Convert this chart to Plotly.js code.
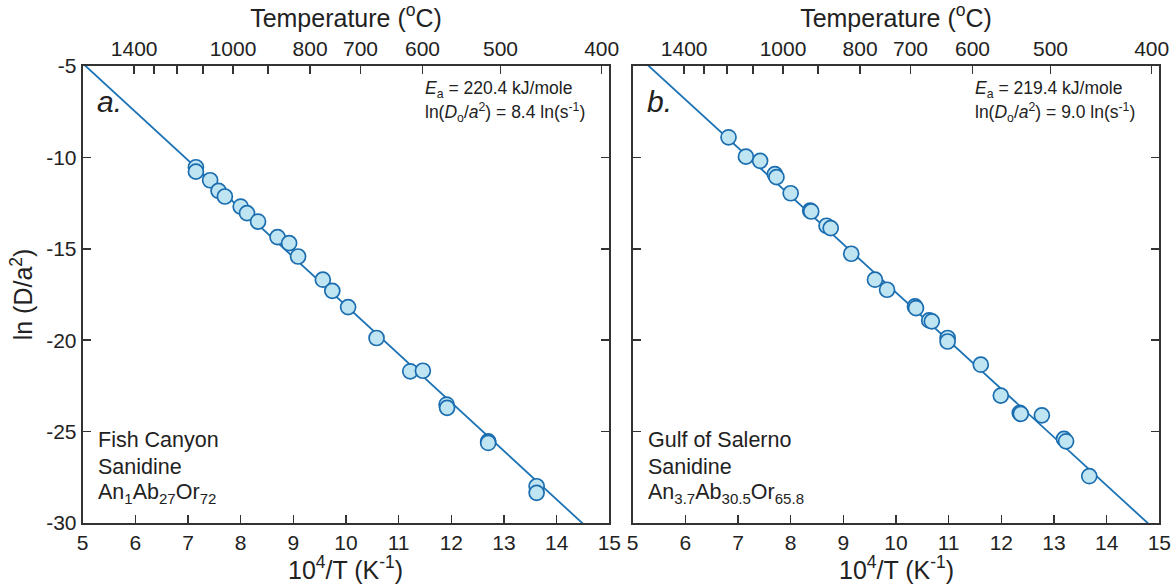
<!DOCTYPE html>
<html><head><meta charset="utf-8">
<script src="https://cdn.plot.ly/plotly-3.0.1.min.js"></script>
<style>html,body{margin:0;padding:0;background:#fff}#chart{width:1172px;height:586px}</style>
</head><body><div id="chart"></div>
<script>
// Panel a: Fish Canyon sanidine (10^4/T, ln(D/a^2))
const xA = [7.15, 7.15, 7.42, 7.58, 7.70, 8.00, 8.12, 8.33, 8.70, 8.92, 9.09, 9.56, 9.74, 10.04, 10.58, 11.22, 11.46, 11.91, 11.92, 12.70, 12.70, 13.62, 13.62];
const yA = [-10.54, -10.78, -11.25, -11.83, -12.14, -12.69, -13.05, -13.51, -14.36, -14.69, -15.42, -16.69, -17.30, -18.19, -19.88, -21.70, -21.67, -23.52, -23.70, -25.53, -25.62, -27.99, -28.35];
// Panel b: Gulf of Salerno sanidine
const xB = [6.82, 7.15, 7.42, 7.70, 7.73, 8.00, 8.37, 8.39, 8.68, 8.76, 9.15, 9.60, 9.83, 10.36, 10.38, 10.63, 10.68, 10.98, 10.98, 11.61, 11.99, 12.35, 12.37, 12.77, 13.19, 13.23, 13.67];
const yB = [-8.90, -9.96, -10.19, -10.92, -11.08, -11.96, -12.91, -12.96, -13.74, -13.87, -15.27, -16.69, -17.24, -18.15, -18.24, -18.92, -18.97, -19.88, -20.07, -21.34, -23.03, -23.98, -24.03, -24.11, -25.40, -25.53, -27.44];
// Arrhenius fits
const fitEa = [220.4, 219.4];      // kJ/mole
const fitLnD0 = [8.4, 9.0];        // ln(s^-1)
// Axis ticks
const xTicks = [5, 6, 7, 8, 9, 10, 11, 12, 13, 14, 15];
const yTicks = [-30, -25, -20, -15, -10, -5];
const tempLabeled = [1400, 1000, 800, 700, 600, 500, 400];
const tempMinor = [1300, 1200, 1100, 900];
const sampleLines = [
  ['Fish Canyon', 'Sanidine', 'An<sub>1</sub>Ab<sub>27</sub>Or<sub>72</sub>'],
  ['Gulf of Salerno', 'Sanidine', 'An<sub>3.7</sub>Ab<sub>30.5</sub>Or<sub>65.8</sub>']
];
const panelLetters = ['a.', 'b.'];

const W = 1172, H = 586;
const FONT = 'Liberation Sans, Arial, sans-serif';
const R = 8.314;
const toX = T => 1e4 / (T + 273.15);

function fitLine(i) {
  const xs = [4, 16];
  const slope = fitEa[i] * 1000 / R / 1e4;
  return {x: xs, y: xs.map(x => fitLnD0[i] - slope * x)};
}

const topVals = tempLabeled.map(toX).concat(tempMinor.map(toX));
const topText = tempLabeled.map(String).concat(tempMinor.map(() => ''));

const lineColor = '#1b72b4';
const markerStyle = {size: 15, color: '#bfe4f2', line: {color: '#1a6daf', width: 1.7}};

const fa = fitLine(0), fb = fitLine(1);
const traces = [
  {x: fa.x, y: fa.y, mode: 'lines', line: {color: lineColor, width: 1.8}, xaxis: 'x', yaxis: 'y', hoverinfo: 'skip'},
  {x: xA, y: yA, mode: 'markers', marker: markerStyle, xaxis: 'x', yaxis: 'y'},
  {x: fb.x, y: fb.y, mode: 'lines', line: {color: lineColor, width: 1.8}, xaxis: 'x2', yaxis: 'y2', hoverinfo: 'skip'},
  {x: xB, y: yB, mode: 'markers', marker: markerStyle, xaxis: 'x2', yaxis: 'y2'},
  {x: [], y: [], mode: 'markers', xaxis: 'x3', yaxis: 'y', hoverinfo: 'skip'},
  {x: [], y: [], mode: 'markers', xaxis: 'x4', yaxis: 'y2', hoverinfo: 'skip'}
];

const dA = [82.7 / W, 609.3 / W], dB = [632.7 / W, 1159.3 / W];
const yd = [1 - 523 / H, 1 - 66 / H];
const ax = {
  showline: true, linecolor: '#333', linewidth: 2, ticks: 'inside', ticklen: 8, tickwidth: 1.6,
  tickcolor: '#333', showgrid: false, zeroline: false, automargin: false,
  tickfont: {family: FONT, size: 21, color: '#222'}
};
const titleFont = {family: FONT, size: 25, color: '#222'};

function bottomX(dom, yref) {
  return Object.assign({}, ax, {domain: dom, range: [5, 15], tickmode: 'array', tickvals: xTicks,
    ticktext: xTicks.map(String), anchor: yref});
}
function topX(dom, over, yref) {
  return Object.assign({}, ax, {domain: dom, range: [5, 15], overlaying: over, side: 'top', anchor: yref,
    tickmode: 'array', tickvals: topVals, ticktext: topText,
    title: {text: 'Temperature (<sup>o</sup>C)', font: titleFont, standoff: 2}});
}

const annotations = [];
const eqs = [
  ['<i>E</i><sub>a</sub> = 220.4 kJ/mole', 'ln(<i>D</i><sub>o</sub>/<i>a</i><sup>2</sup>) = 8.4 ln(s<sup>-1</sup>)'],
  ['<i>E</i><sub>a</sub> = 219.4 kJ/mole', 'ln(<i>D</i><sub>o</sub>/<i>a</i><sup>2</sup>) = 9.0 ln(s<sup>-1</sup>)']
];
const panelLeft = [82.7, 632.7];
const doms = [dA, dB];
for (let p = 0; p < 2; p++) {
  const L = panelLeft[p];
  annotations.push({xref: 'paper', yref: 'paper', x: (doms[p][0] + doms[p][1]) / 2, y: 1 - 568 / H, xanchor: 'center', yanchor: 'middle',
    text: '10<sup>4</sup>/T (K<sup>-1</sup>)', showarrow: false, font: titleFont});
  annotations.push({xref: 'paper', yref: 'paper', x: (L + 12) / W, y: 1 - 101 / H, xanchor: 'left', yanchor: 'middle',
    text: '<i>' + panelLetters[p] + '</i>', showarrow: false, font: {family: FONT, size: 30, color: '#222'}});
  annotations.push({xref: 'paper', yref: 'paper', x: (L + 340) / W, y: 1 - 89 / H, xanchor: 'left', yanchor: 'middle',
    text: eqs[p][0], showarrow: false, font: {family: FONT, size: 17.5, color: '#222'}});
  annotations.push({xref: 'paper', yref: 'paper', x: (L + 340) / W, y: 1 - 113 / H, xanchor: 'left', yanchor: 'middle',
    text: eqs[p][1], showarrow: false, font: {family: FONT, size: 17.5, color: '#222'}});
  sampleLines[p].forEach((t, k) => {
    annotations.push({xref: 'paper', yref: 'paper', x: (L + 13) / W, y: 1 - (440 + 26.5 * k) / H, xanchor: 'left', yanchor: 'middle',
      text: t, showarrow: false, font: {family: FONT, size: 21.5, color: '#222'}});
  });
}

const layout = {
  width: W, height: H, margin: {l: 0, r: 0, t: 0, b: 0},
  paper_bgcolor: '#fff', plot_bgcolor: '#fff', showlegend: false,
  font: {family: FONT, color: '#222'},
  xaxis: bottomX(dA, 'y'),
  xaxis2: bottomX(dB, 'y2'),
  xaxis3: topX(dA, 'x', 'y'),
  xaxis4: topX(dB, 'x2', 'y2'),
  yaxis: Object.assign({}, ax, {domain: yd, range: [-30, -5], tickmode: 'array', tickvals: yTicks, ticktext: yTicks.map(String),
    mirror: 'ticks', anchor: 'x',
    title: {text: 'ln (D/a<sup>2</sup>)', font: titleFont, standoff: 6}}),
  yaxis2: Object.assign({}, ax, {domain: yd, range: [-30, -5], tickmode: 'array', tickvals: yTicks, mirror: 'ticks', anchor: 'x2', showticklabels: false}),
  annotations: annotations
};

Plotly.newPlot('chart', traces, layout, {displayModeBar: false, staticPlot: true});
</script></body></html>
